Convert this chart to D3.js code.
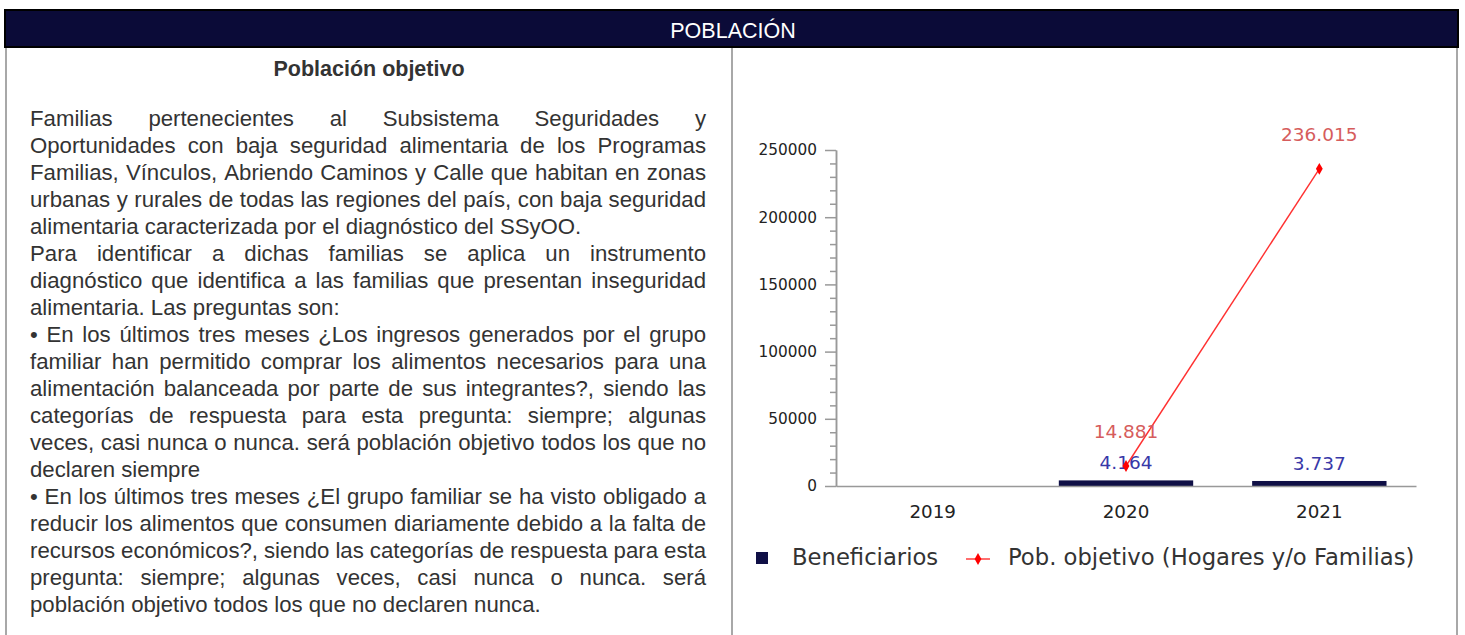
<!DOCTYPE html>
<html>
<head>
<meta charset="utf-8">
<script src="https://cdn.jsdelivr.net/npm/d3@7"></script>
<style>
  html, body { margin: 0; padding: 0; background: #fff; }
  svg { display: block; }
</style>
</head>
<body>
<svg id="page" width="1465" height="635"></svg>
<script>
// ---------------- DATA ----------------
const categories = ["2019", "2020", "2021"];
const beneficiarios = [null, 4164, 3737];
const poblacionObjetivo = [null, 14881, 236015];
const yMajorTicks = [0, 50000, 100000, 150000, 200000, 250000];
const yMinorStep = 10000;
const seriesNames = ["Beneficiarios", "Pob. objetivo (Hogares y/o Familias)"];
const headerTitle = "POBLACIÓN";
const sectionTitle = "Población objetivo";
// [line text, justified?]
const paragraphLines = [
  ["Familias pertenecientes al Subsistema Seguridades y", true],
  ["Oportunidades con baja seguridad alimentaria de los Programas", true],
  ["Familias, Vínculos, Abriendo Caminos y Calle que habitan en zonas", true],
  ["urbanas y rurales de todas las regiones del país, con baja seguridad", true],
  ["alimentaria caracterizada por el diagnóstico del SSyOO.", false],
  ["Para identificar a dichas familias se aplica un instrumento", true],
  ["diagnóstico que identifica a las familias que presentan inseguridad", true],
  ["alimentaria. Las preguntas son:", false],
  ["• En los últimos tres meses ¿Los ingresos generados por el grupo", true],
  ["familiar han permitido comprar los alimentos necesarios para una", true],
  ["alimentación balanceada por parte de sus integrantes?, siendo las", true],
  ["categorías de respuesta para esta pregunta: siempre; algunas", true],
  ["veces, casi nunca o nunca. será población objetivo todos los que no", true],
  ["declaren siempre", false],
  ["• En los últimos tres meses ¿El grupo familiar se ha visto obligado a", true],
  ["reducir los alimentos que consumen diariamente debido a la falta de", true],
  ["recursos económicos?, siendo las categorías de respuesta para esta", true],
  ["pregunta: siempre; algunas veces, casi nunca o nunca. será", true],
  ["población objetivo todos los que no declaren nunca.", false]
];

// ---------------- PAGE FRAME ----------------
const svg = d3.select("#page");
const bodyFont = "'Liberation Sans', Arial, sans-serif";
const chartFont = "'DejaVu Sans', sans-serif";

// cells
svg.append("rect").attr("x", 6).attr("y", 47).attr("width", 726).attr("height", 600)
  .attr("fill", "#fff").attr("stroke", "#a8a8a8").attr("stroke-width", 2);
svg.append("rect").attr("x", 732).attr("y", 47).attr("width", 725).attr("height", 600)
  .attr("fill", "#fff").attr("stroke", "#a8a8a8").attr("stroke-width", 2);

// header
svg.append("rect").attr("x", 5).attr("y", 10).attr("width", 1453).attr("height", 37)
  .attr("fill", "#0b0b38").attr("stroke", "#000").attr("stroke-width", 2);
svg.append("text").attr("x", 733).attr("y", 38).attr("text-anchor", "middle")
  .attr("font-family", bodyFont).attr("font-size", 21.5).attr("fill", "#fff")
  .text(headerTitle);

// ---------------- LEFT TEXT ----------------
svg.append("text").attr("x", 369).attr("y", 76).attr("text-anchor", "middle")
  .attr("font-family", bodyFont).attr("font-size", 21.5).attr("font-weight", "bold")
  .attr("fill", "#333").text(sectionTitle);

const textLeft = 30, textRight = 706, firstBaseline = 126, lineStep = 27;
const fs = 22.2;
const measure = svg.append("text").attr("font-family", bodyFont).attr("font-size", fs)
  .attr("visibility", "hidden");
function wordWidth(w) { measure.text(w); return measure.node().getComputedTextLength(); }

const tg = svg.append("g").attr("font-family", bodyFont).attr("font-size", fs).attr("fill", "#333");
paragraphLines.forEach(([line, just], i) => {
  const y = firstBaseline + i * lineStep;
  if (!just) {
    tg.append("text").attr("x", textLeft).attr("y", y).text(line);
    return;
  }
  const words = line.split(" ");
  const widths = words.map(wordWidth);
  const total = d3.sum(widths);
  const gap = (textRight - textLeft - total) / (words.length - 1);
  const t = tg.append("text").attr("y", y);
  let x = textLeft;
  words.forEach((w, k) => {
    t.append("tspan").attr("x", x).attr("y", y).text(w);
    x += widths[k] + gap;
  });
});
measure.remove();

// ---------------- CHART ----------------
const x = d3.scaleBand().domain(categories).range([836, 1416])
  .paddingInner(0.305).paddingOuter(0.1525);
const y = d3.scaleLinear().domain([0, 250000]).range([486, 150]);
const cx = c => x(c) + x.bandwidth() / 2;

const chart = svg.append("g");

// minor ticks
const minorVals = d3.range(0, 250001, yMinorStep).filter(v => !yMajorTicks.includes(v));
const minorAxis = chart.append("g").attr("transform", "translate(836,0)")
  .call(d3.axisLeft(y).tickValues(minorVals).tickSize(6).tickSizeOuter(0).tickFormat(""));
// major
const yAxis = chart.append("g").attr("transform", "translate(836,0)")
  .call(d3.axisLeft(y).tickValues(yMajorTicks).tickSize(11).tickSizeOuter(0)
    .tickPadding(8).tickFormat(d3.format("d")));
yAxis.selectAll("text").attr("font-family", chartFont).attr("font-size", 15.3).attr("fill", "#222");
[minorAxis, yAxis].forEach(a => {
  a.selectAll("line").attr("stroke", "#999").attr("stroke-width", 1.5);
  a.select(".domain").attr("stroke", "#999").attr("stroke-width", 1.5);
});

// bars
const fmt = d3.formatLocale({ decimal: ",", thousands: ".", grouping: [3], currency: ["$", ""] }).format(",d");
const barData = categories.map((c, i) => ({ c, v: beneficiarios[i] })).filter(d => d.v != null);
chart.append("g").selectAll("rect").data(barData).join("rect")
  .attr("x", d => x(d.c)).attr("width", x.bandwidth())
  .attr("y", d => y(d.v)).attr("height", d => y(0) - y(d.v))
  .attr("fill", "#0f0f46");

// x axis
const xAxis = chart.append("g").attr("transform", "translate(0,486)")
  .call(d3.axisBottom(x).tickSize(0).tickSizeOuter(0).tickPadding(19));
xAxis.select(".domain").attr("stroke", "#999").attr("stroke-width", 1.5);
xAxis.selectAll("text").attr("font-family", chartFont).attr("font-size", 18.3).attr("fill", "#222");

// bar labels
chart.append("g").selectAll("text").data(barData).join("text")
  .attr("x", d => cx(d.c)).attr("y", d => y(d.v) - 11)
  .attr("text-anchor", "middle").attr("font-family", chartFont).attr("font-size", 18.5)
  .attr("fill", "#3838a8").text(d => fmt(d.v));

// line
const lineData = categories.map((c, i) => ({ c, v: poblacionObjetivo[i] })).filter(d => d.v != null);
chart.append("path").datum(lineData)
  .attr("d", d3.line().x(d => cx(d.c)).y(d => y(d.v)))
  .attr("fill", "none").attr("stroke", "#ff3030").attr("stroke-width", 1.4);
const diamond = d3.symbol().type(d3.symbolDiamond).size(40);
chart.append("g").selectAll("path").data(lineData).join("path")
  .attr("transform", d => `translate(${cx(d.c)},${y(d.v)})`)
  .attr("d", diamond).attr("fill", "#ff0000");
chart.append("g").selectAll("text").data(lineData).join("text")
  .attr("x", d => cx(d.c)).attr("y", d => y(d.v) - 28)
  .attr("text-anchor", "middle").attr("font-family", chartFont).attr("font-size", 18.5)
  .attr("fill", "#d65c5c").text(d => fmt(d.v));

// legend
const lg = chart.append("g").attr("font-family", chartFont).attr("font-size", 22.7).attr("fill", "#333");
lg.append("rect").attr("x", 756).attr("y", 552).attr("width", 12).attr("height", 12).attr("fill", "#0f0f46");
lg.append("text").attr("x", 792).attr("y", 565).text(seriesNames[0]);
lg.append("line").attr("x1", 966).attr("x2", 990).attr("y1", 559).attr("y2", 559)
  .attr("stroke", "#ff3030").attr("stroke-width", 1.4);
lg.append("path").attr("transform", "translate(978,559)").attr("d", diamond).attr("fill", "#ff0000");
lg.append("text").attr("x", 1008).attr("y", 565).text(seriesNames[1]);
</script>
</body>
</html>
